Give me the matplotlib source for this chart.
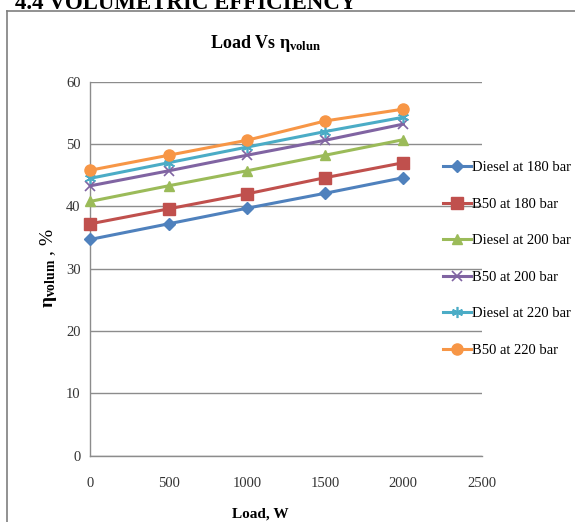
import matplotlib
matplotlib.use("Agg")
import matplotlib.pyplot as plt
from matplotlib.lines import Line2D

plt.rcParams['font.family'] = ['Liberation Serif', 'DejaVu Serif']
plt.rcParams['mathtext.fontset'] = 'custom'
plt.rcParams['mathtext.rm'] = 'Liberation Serif:bold'
plt.rcParams['mathtext.it'] = 'Liberation Serif:bold'
plt.rcParams['mathtext.bf'] = 'Liberation Serif:bold'

# data
load = [0, 500, 1000, 1500, 2000]
diesel_180 = [34.7, 37.2, 39.7, 42.1, 44.6]
b50_180 = [37.2, 39.6, 42.0, 44.6, 47.0]
diesel_200 = [40.8, 43.3, 45.7, 48.2, 50.7]
b50_200 = [43.3, 45.7, 48.2, 50.6, 53.2]
diesel_220 = [44.5, 47.0, 49.5, 52.0, 54.3]
b50_220 = [45.8, 48.2, 50.6, 53.7, 55.6]
labels = ["Diesel at 180 bar", "B50 at 180 bar", "Diesel at 200 bar",
          "B50 at 200 bar", "Diesel at 220 bar", "B50 at 220 bar"]
xticks = [0, 500, 1000, 1500, 2000, 2500]
yticks = [0, 10, 20, 30, 40, 50, 60]

series = [diesel_180, b50_180, diesel_200, b50_200, diesel_220, b50_220]
colors = ['#4F81BD', '#C0504D', '#9BBB59', '#8064A2', '#4BACC6', '#F79646']
markers = ['D', 's', '^', 'x', (6, 2, 0), 'o']
msizes = [6, 8, 7.5, 7.5, 8, 8]

W, H = 575, 522
fig = plt.figure(figsize=(W / 100, H / 100), dpi=100)
ax = fig.add_axes([90.3 / W, 1 - 455.7 / H, (481.6 - 90.3) / W, (455.7 - 81.7) / H])

for ys, c, m, ms, lab in zip(series, colors, markers, msizes, labels):
    mew = 1.2 if m in ('x', (6, 2, 0)) else 1
    ax.plot(load, ys, color=c, lw=2.2, marker=m, ms=ms, mfc=c, mec=c, mew=mew,
            label=lab, clip_on=False, zorder=3)

ax.set_xlim(0, 2500)
ax.set_ylim(0, 60)
ax.set_xticks(xticks)
ax.set_yticks(yticks)
ax.tick_params(length=0, labelsize=10.5, colors='#333333')
ax.tick_params(axis='x', pad=15)
ax.tick_params(axis='y', pad=7)
ax.grid(axis='y', color='#8c8c8c', lw=1)
ax.set_axisbelow(True)
for s in ['top', 'right']:
    ax.spines[s].set_visible(False)
for s in ['left', 'bottom']:
    ax.spines[s].set_color('#8c8c8c')
    ax.spines[s].set_linewidth(1)

fig.legend(loc='center left', bbox_to_anchor=(443 / W, 1 - 259 / H), frameon=False,
           fontsize=10.5, handlelength=1.9, handletextpad=0.1, labelspacing=1.6,
           borderpad=0, borderaxespad=0)

# chart frame (left and top edges visible)
fig.add_artist(Line2D([6.5 / W, 6.5 / W], [0, 1 - 11 / H], color='#7f7f7f', lw=1.2,
                      transform=fig.transFigure))
fig.add_artist(Line2D([6.5 / W, 1], [1 - 11 / H, 1 - 11 / H], color='#7f7f7f', lw=1.2,
                      transform=fig.transFigure))

fig.text(15 / W, 1 - 9 / H, "4.4 VOLUMETRIC EFFICIENCY", fontsize=16.5,
         fontweight='bold', va='baseline', ha='left')
fig.text(266 / W, 1 - 48 / H, r"Load Vs $\eta_{volun}$", fontsize=13,
         fontweight='bold', va='baseline', ha='center')
fig.text(260 / W, 4 / H, "Load, W", fontsize=11, fontweight='bold',
         va='baseline', ha='center')
fig.text(48 / W, 1 - 268 / H, r"$\eta_{volum}$ , %", fontsize=14, rotation=90,
         va='center', ha='center')

fig.savefig("out.png", dpi=100)
